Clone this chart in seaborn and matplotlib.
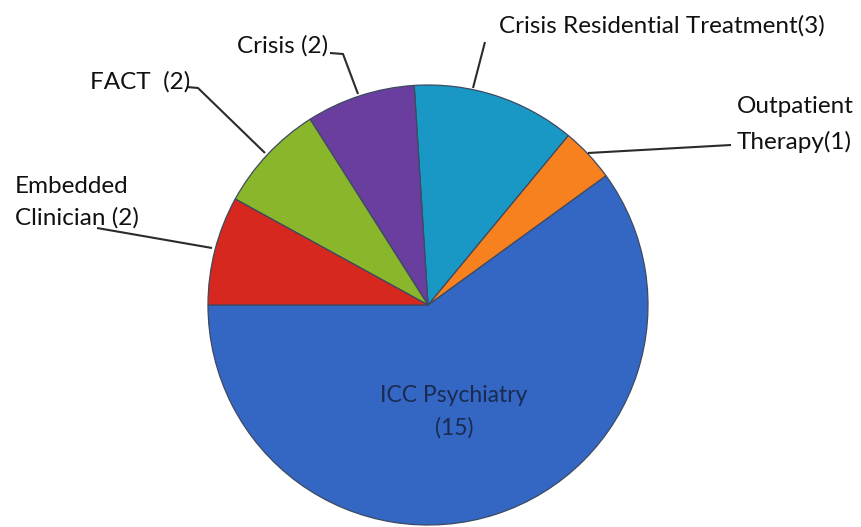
import matplotlib
matplotlib.use("Agg")
import matplotlib.pyplot as plt
import seaborn as sns

# data, in drawing order (counter-clockwise from 9 o'clock)
categories = ["ICC Psychiatry", "Outpatient Therapy", "Crisis Residential Treatment",
              "Crisis", "FACT", "Embedded Clinician"]
counts = [15, 1, 3, 2, 2, 2]
label_texts = ["ICC Psychiatry\n({})", "Outpatient\nTherapy({})", "Crisis Residential Treatment({})",
               "Crisis ({})", "FACT  ({})", "Embedded\nClinician ({})"]
colors = ["#3466c4", "#f7801f", "#1998c6", "#6a3e9e", "#8ab62c", "#d6281e"]

sns.set_theme(style="white")
plt.rcParams["font.family"] = ["Lato", "DejaVu Sans"]

W, H = 862, 527
fig = plt.figure(figsize=(W / 100, H / 100), dpi=100)
ax = fig.add_axes([0, 0, 1, 1])


def px(x, y):
    # image pixel coords (origin top-left) -> data coords
    return x, H - y


ax.pie(counts, colors=colors, startangle=180, counterclock=True,
       center=px(428, 305), radius=220, frame=True,
       wedgeprops=dict(linewidth=0.9, edgecolor="#3c4a60"))
ax.set_xlim(0, W)
ax.set_ylim(0, H)
ax.set_aspect("equal")
ax.axis("off")

texts = [t.format(c) for t, c in zip(label_texts, counts)]

# inside label for the big slice
for j, line in enumerate(texts[0].split("\n")):
    ax.text(*px(454, 396 + j * 32), line, ha="center", va="center", fontsize=16.5,
            color="#1a2b50")

# outside labels: (left x, first line centre y, line gap) and leader path
label_pos = {
    1: (737, 106, 36),
    2: (499, 26, 0),
    3: (237, 46, 0),
    4: (90, 82, 0),
    5: (15, 186, 32),
}
leaders = {
    1: [(588, 153), (731, 145)],
    2: [(485, 42), (473, 88)],
    3: [(330, 53), (343, 54), (358, 94)],
    4: [(187, 87), (198, 88), (265, 153)],
    5: [(97, 228), (212, 248)],
}

for i, (x, y, gap) in label_pos.items():
    for j, line in enumerate(texts[i].split("\n")):
        ax.text(*px(x, y + j * gap), line, ha="left", va="center",
                fontsize=17.5, color="#111111")
    pts = [px(a, b) for a, b in leaders[i]]
    ax.plot([p[0] for p in pts], [p[1] for p in pts], color="#2b2b2b", lw=1.5,
            solid_capstyle="butt")

fig.savefig("out.png", dpi=100)
